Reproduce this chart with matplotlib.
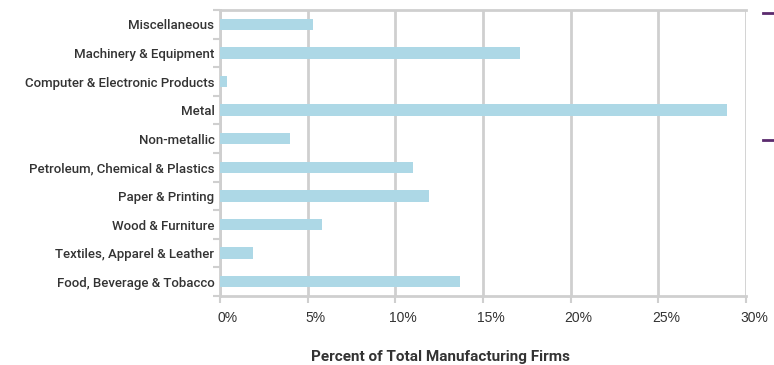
import matplotlib
matplotlib.use("Agg")
import matplotlib.pyplot as plt
import matplotlib.transforms as mtransforms
from matplotlib.lines import Line2D
import numpy as np

categories = [
    "Food, Beverage & Tobacco",
    "Textiles, Apparel & Leather",
    "Wood & Furniture",
    "Paper & Printing",
    "Petroleum, Chemical & Plastics",
    "Non-metallic",
    "Metal",
    "Computer & Electronic Products",
    "Machinery & Equipment",
    "Miscellaneous",
]
percent = [13.7, 1.9, 5.8, 11.9, 11.0, 4.0, 28.9, 0.4, 17.1, 5.3]
xticks = [0, 5, 10, 15, 20, 25, 30]

GRID = "#cfcfcf"
BAR = "#add8e6"
TEXT = "#333333"

fig = plt.figure(figsize=(7.74, 3.65), dpi=100)
ax = fig.add_axes([220 / 774, 69 / 365, 526 / 774, 286 / 365])

y = np.arange(len(categories))
ax.barh(y, percent, height=0.4, color=BAR, zorder=3)

ax.set_xlim(0, 30)
ax.set_ylim(-0.5, len(categories) - 0.5)
ax.set_xticks(xticks)
ax.set_xticklabels([f"{v}%" for v in xticks], fontsize=10, color=TEXT,
                   family="Liberation Sans")

ax.set_yticks(y)
ax.set_yticklabels(categories, fontsize=9.5, color=TEXT, family="Roboto",
                   fontweight="medium")
ax.set_yticks(np.arange(-0.5, len(categories), 1), minor=True)

ax.grid(axis="x", color=GRID, lw=2, zorder=0)
ax.tick_params(axis="y", which="major", length=0, pad=4)
ax.tick_params(axis="y", which="minor", length=5, width=1.5, color=GRID)
ax.tick_params(axis="x", length=5, width=1.5, color=GRID, pad=5.5)

# labels sit a little right of their gridlines in the original
shift = mtransforms.ScaledTranslation(8 / 100, 0, fig.dpi_scale_trans)
for tick in ax.xaxis.get_major_ticks():
    tick.label1.set_transform(tick.label1.get_transform() + shift)

for side in ["left", "bottom", "top", "right"]:
    ax.spines[side].set_color(GRID)
    ax.spines[side].set_linewidth(2)
ax.spines["right"].set_visible(False)

ax.set_xlabel("Percent of Total Manufacturing Firms", fontsize=11,
              fontweight="bold", color=TEXT, family="Roboto")
ax.xaxis.set_label_coords(0.42, -0.213, transform=ax.transAxes)
ax.xaxis.label.set_va("center")

# cropped legend marks at the right edge
for yy in (13, 140):
    fig.add_artist(Line2D([763 / 774, 1.0], [1 - yy / 365, 1 - yy / 365],
                          color="#5b2a6e", lw=2))

fig.savefig("out.png", dpi=100)
